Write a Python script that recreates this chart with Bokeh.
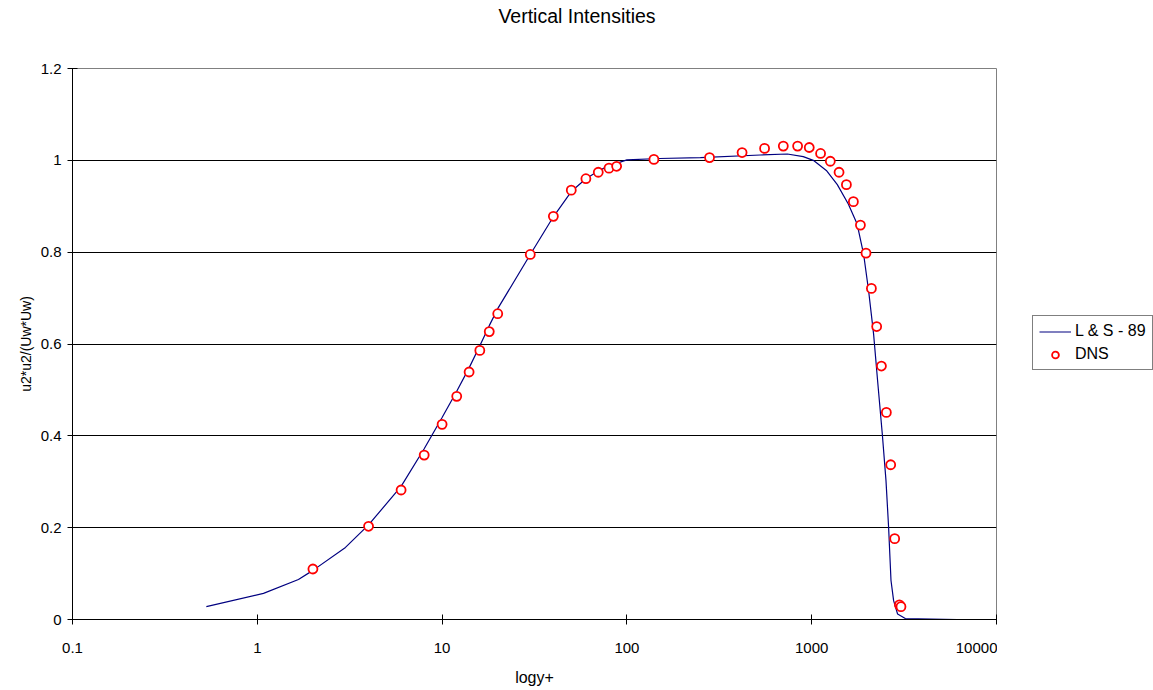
from bokeh.plotting import figure
from bokeh.layouts import column, row
from bokeh.models import Range1d, FixedTicker, NumeralTickFormatter, Legend, LegendItem
from bokeh.embed import file_html
from bokeh.resources import INLINE

# ---- data ----
dns_x = [2, 4, 6, 8, 10, 12, 14, 16, 18, 20, 30, 40, 50, 60, 70, 80, 88, 140, 280, 420, 556, 702, 839, 970,
         1117, 1261, 1406, 1541, 1681, 1835, 1967, 2104, 2247, 2384, 2535, 2676, 2812, 2983, 3041]
dns_y = [0.110, 0.203, 0.282, 0.358, 0.425, 0.486, 0.539, 0.586, 0.627, 0.666, 0.795, 0.878, 0.935, 0.960,
         0.974, 0.983, 0.987, 1.002, 1.006, 1.017, 1.026, 1.031, 1.031, 1.028, 1.015, 0.998, 0.974, 0.947,
         0.910, 0.859, 0.798, 0.721, 0.638, 0.552, 0.451, 0.337, 0.176, 0.032, 0.028]

ls_x = [0.53, 1.08, 1.67, 2, 3, 4, 6, 8, 10, 12, 14, 16, 18, 20, 30, 40, 50, 60, 70, 80, 100, 150, 250,
        527, 738, 900, 1020, 1200, 1376, 1578, 1759, 1909, 2032, 2162, 2273, 2410, 2523, 2607, 2686,
        2775, 2916, 3210, 6111]
ls_y = [0.028, 0.057, 0.087, 0.107, 0.157, 0.206, 0.290, 0.372, 0.440, 0.497, 0.548, 0.596, 0.640, 0.677,
        0.795, 0.877, 0.932, 0.960, 0.977, 0.988, 1.001, 1.004, 1.006, 1.0116, 1.0138, 1.008, 1.000,
        0.978, 0.947, 0.905, 0.862, 0.796, 0.716, 0.622, 0.520, 0.404, 0.303, 0.201, 0.085, 0.041,
        0.012, 0.002, 0.0]

x_ticks = [0.1, 1, 10, 100, 1000, 10000]
y_ticks = [0, 0.2, 0.4, 0.6, 0.8, 1.0, 1.2]

title_text = "Vertical Intensities"
x_label = "logy+"
y_label = "u2*u2/(Uw*Uw)"
series_names = ["L & S - 89", "DNS"]

FONT = "Liberation Sans"
LINE_COLOR = "#000080"
DOT_COLOR = "#ff0000"

# ---- title strip (spans the whole chart width) ----
pt = figure(width=1153, height=48, x_axis_type=None, y_axis_type=None,
            output_backend="svg", toolbar_location=None,
            min_border_left=0, min_border_right=0, min_border_top=0, min_border_bottom=0,
            x_range=Range1d(0, 1), y_range=Range1d(0, 1))
pt.outline_line_color = None
pt.background_fill_color = "white"
pt.border_fill_color = "white"
pt.title.text = title_text
pt.title.align = "center"
pt.title.text_font = FONT
pt.title.text_font_size = "19.5px"
pt.title.text_font_style = "normal"
pt.title.text_color = "black"
pt.title.standoff = 4

# ---- main plot ----
p = figure(width=997, height=642, x_axis_type="log",
           x_range=Range1d(0.1, 10000), y_range=Range1d(0, 1.2),
           output_backend="svg", toolbar_location=None,
           min_border_left=72, min_border_right=1, min_border_top=20, min_border_bottom=71)
p.title = None
p.background_fill_color = "white"
p.border_fill_color = "white"
p.outline_line_color = "#808080"
p.outline_line_width = 1

xa = p.below[0]
ya = p.left[0]
xa.ticker = FixedTicker(ticks=x_ticks, minor_ticks=[])
xa.formatter = NumeralTickFormatter(format="0.[0]")
ya.ticker = FixedTicker(ticks=y_ticks, minor_ticks=[])
ya.formatter = NumeralTickFormatter(format="0.[0]")
for ax in (xa, ya):
    ax.axis_line_color = "black"
    ax.axis_line_width = 1
    ax.major_tick_line_color = "black"
    ax.major_tick_in = 5
    ax.major_tick_out = 5
    ax.minor_tick_line_color = None
    ax.major_label_text_font = FONT
    ax.major_label_text_font_size = "15px"
    ax.major_label_text_color = "black"
    ax.axis_label_text_font = FONT
    ax.axis_label_text_font_style = "normal"
    ax.axis_label_text_color = "black"
xa.axis_label = x_label
xa.axis_label_text_font_size = "16px"
xa.major_label_standoff = 18
xa.axis_label_standoff = 13
ya.axis_label = y_label
ya.axis_label_text_font_size = "14px"
ya.major_label_standoff = 6
ya.axis_label_standoff = 4

p.xgrid.grid_line_color = None
p.ygrid.grid_line_color = "black"
p.ygrid.grid_line_width = 1

r_line = p.line(ls_x, ls_y, line_color=LINE_COLOR, line_width=1.2)
r_dns = p.scatter(dns_x, dns_y, marker="circle", size=9, line_color=DOT_COLOR, line_width=1.8,
                  fill_color="white")

# ---- legend strip on the right (its data lie outside its own ranges: only the key shows) ----
pl = figure(width=156, height=642, x_axis_type=None, y_axis_type=None,
            output_backend="svg", toolbar_location=None,
            min_border_left=0, min_border_right=0, min_border_top=20, min_border_bottom=71,
            x_range=Range1d(-2, -1), y_range=Range1d(-2, -1))
pl.title = None
pl.outline_line_color = None
pl.background_fill_color = "white"
pl.border_fill_color = "white"
k_line = pl.line(ls_x, ls_y, line_color=LINE_COLOR, line_width=1.2)
k_dns = pl.scatter(dns_x, dns_y, marker="circle", size=9, line_color=DOT_COLOR, line_width=1.8,
                   fill_color="white")
legend = Legend(items=[LegendItem(label=series_names[0], renderers=[k_line]),
                       LegendItem(label=series_names[1], renderers=[k_dns])],
                location=(35, 249), orientation="vertical",
                border_line_color="black", border_line_width=1, background_fill_color="white",
                background_fill_alpha=1.0,
                label_text_font=FONT, label_text_font_size="16px", label_text_color="black",
                glyph_width=32, glyph_height=17, label_height=17, label_standoff=4,
                spacing=5, padding=6, margin=0)
pl.add_layout(legend, "center")

layout = column(pt, row(p, pl, spacing=0), spacing=0)

open("out.html", "w").write(file_html(layout, INLINE))
